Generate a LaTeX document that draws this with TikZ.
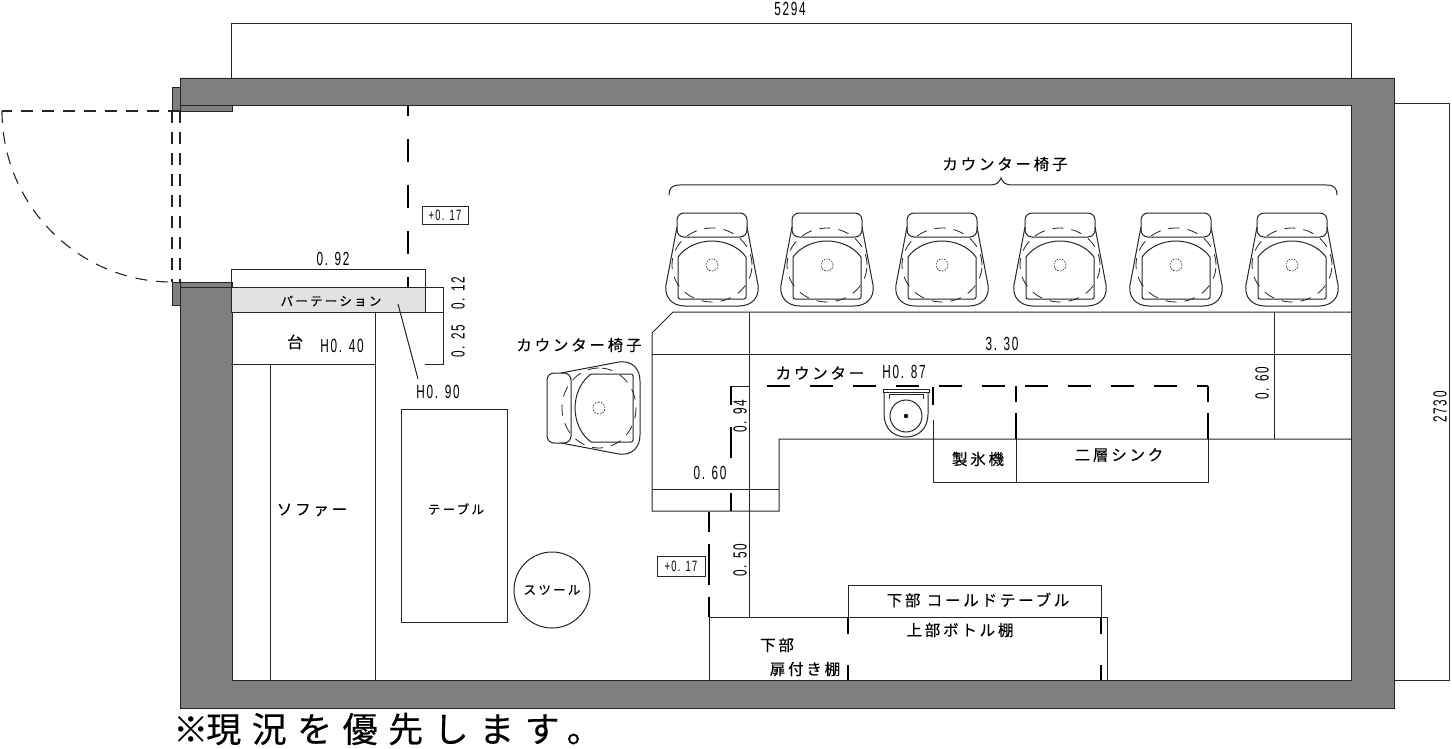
\documentclass[tikz,border=0pt]{standalone}
\usepackage{fontspec}
\usetikzlibrary{positioning}
\newfontfamily\jpfont[LetterSpace=18,FakeBold=0.25]{Noto Sans CJK JP}
\newfontfamily\notefont[LetterSpace=30,FakeBold=0.4]{Noto Sans CJK JP}
\newfontfamily\jptight[FakeBold=0.4]{Noto Sans CJK JP}
\newfontfamily\dimfont[FakeStretch=0.62,LetterSpace=9]{Liberation Sans}
\definecolor{WallGrey}{HTML}{808080}
\definecolor{PartGrey}{HTML}{E2E2E2}
\definecolor{InkDark}{HTML}{252525}
\tikzset{
  wall/.style={fill=WallGrey, draw=InkDark, line width=0.9pt},
  plan/.style={draw=InkDark, line width=1pt},
  dimline/.style={draw=InkDark, line width=0.8pt},
  hidden/.style={draw=black, line width=1.5pt},
  doorline/.style={draw=InkDark, line width=1.1pt, dash pattern=on 12pt off 9pt},
  jplabel/.style={inner sep=0pt, text=black, font=\fontsize{15.5}{17}\selectfont\jpfont},
  jpsmall/.style={inner sep=0pt, text=black, font=\fontsize{12.5}{14}\selectfont\jpfont},
  dimlabel/.style={inner sep=0pt, text=black, font=\fontsize{19}{21}\selectfont\dimfont},
  levelbox/.style={draw=InkDark, line width=0.8pt, inner sep=0pt, minimum height=18pt,
      text=black, font=\fontsize{15}{17}\selectfont\dimfont},
  chair/.pic={
    \draw[plan, rounded corners=7pt] (-35,-52) rectangle (35,-28);
    \draw[plan] (-35,-38) -- (-46,20) .. controls (-48,33) and (-39,41) .. (-27,41)
        -- (27,41) .. controls (39,41) and (48,33) .. (46,20) -- (35,-38);
    \draw[plan, rounded corners=2pt] (-34,-8) -- (-34,34) -- (34,34) -- (34,-8);
    \draw[plan] (-34,-8) .. controls (-26,-19) and (-12,-24) .. (0,-24)
        .. controls (12,-24) and (26,-19) .. (34,-8);
    \draw[dimline, dash pattern=on 11pt off 8pt] (0,0) ellipse [x radius=40pt, y radius=37pt];
    \draw[dimline, line width=0.6pt, dash pattern=on 1.6pt off 1.2pt] (0,0) circle [radius=6pt];
  }
}
\begin{document}
\begin{tikzpicture}[x=1pt, y=-1pt]
\useasboundingbox (0,0) rectangle (1452,749);

% walls and door
\draw[wall] (180,78) -- (1394,78) -- (1394,708) -- (180,708) -- (180,282) -- (232,282)
    -- (232,680) -- (1351,680) -- (1351,105) -- (232,105) -- (232,111) -- (180,111) -- cycle;
\draw[dimline] (180,105) -- (232,105) (180,287) -- (232,287);
\draw[wall] (172,87) rectangle (180,111);
\draw[wall] (172,282) rectangle (180,305);
\draw[doorline] (180,111) -- (2,111);
\draw[doorline] (2,111) .. controls (2,205) and (78,282) .. (172,282);
\draw[doorline] (172,111) -- (172,282);
\draw[doorline] (180,111) -- (180,282);

% overall sizes
\draw[dimline] (231,78) -- (231,23) -- (1351,23) -- (1351,78);
\draw[dimline] (1394,103) -- (1449,103) -- (1449,680) -- (1394,680);
\node[dimlabel] (widthlabel) at (790,9) {5294};
\node[dimlabel, rotate=90] (depthlabel) at (1440,407) {2730};

% partition and low shelf
\draw[dimline, fill=PartGrey] (231,287) rectangle (425,312);
\draw[dimline] (231,287) -- (231,269) -- (425,269) -- (425,312);
\draw[dimline] (425,287) -- (443,287) -- (443,364) -- (425,364);
\draw[dimline] (425,312) -- (443,312);
\draw[plan] (398,304) -- (418,379);
\draw[plan] (375,312) -- (375,680);
\draw[plan] (231,364) -- (375,364);
\draw[plan] (270,364) -- (270,680);
\draw[hidden, dash pattern=on 23pt off 23pt, dash phase=12.3pt] (408,105) -- (408,287);
\node[jpsmall] (partlabel) at (331,301) {パーテーション};
\node[dimlabel] (partwidth) at (333,259) {0. 92};
\node[dimlabel, rotate=90] (partthick) at (458,293) {0. 12};
\node[dimlabel, rotate=90] (partgap) at (458,341) {0. 25};
\node[dimlabel] (partheight) at (438,392) {H0. 90};
\node[inner sep=0pt, text=black, font=\fontsize{16}{18}\selectfont\jptight] (shelflabel) at (295,342) {台};
\node[dimlabel] (shelfheight) at (342,346) {H0. 40};
\node[levelbox, minimum width=46pt] (levelupper) at (445,215) {+0. 17};

% sofa, table, stool
\node[jplabel] (sofalabel) at (312,510) {ソファー};
\node[plan, rectangle, minimum width=106pt, minimum height=213pt, draw=InkDark] (tablebox) at (454,515.5) {};
\node[jpsmall] (tablelabel) at (456,509) {テーブル};
\node[plan, circle, minimum size=76pt, jpsmall, draw=InkDark] (stoolbox) at (552,590) {スツール};

% chairs
\draw[plan] (669,195) .. controls (669,188) and (672,185) .. (680,185) -- (990,185)
    .. controls (996,185) and (999,183) .. (1001,178) .. controls (1003,183) and (1006,185) .. (1012,185)
    -- (1326,185) .. controls (1334,185) and (1337,188) .. (1337,195);
\node[jplabel] (chairtop) at (1005,164) {カウンター椅子};
\foreach \cx in {712,827,942,1060,1176,1292}
  \pic at (\cx,265) {chair};
\pic[rotate=90] at (599,408) {chair};
\node[jplabel] (chairside) at (579,345) {カウンター椅子};

% counter
\draw[plan] (1351,312) -- (673,312) -- (652,333) -- (652,511) -- (779,511) -- (779,439) -- (1351,439);
\draw[plan] (652,354) -- (1351,354);
\draw[plan] (652,489) -- (779,489);
\draw[plan] (749,312) -- (749,617);
\draw[plan] (1274,312) -- (1274,439);
\draw[plan] (731,386) -- (749,386);
\draw[hidden] (731,386) -- (731,405) (731,427) -- (731,458) (731,493) -- (731,511);
\draw[hidden, line width=1.2pt, dash pattern=on 23pt off 20pt] (767,386) -- (1208,386);
\node[jplabel] (counterlabel) at (820,373) {カウンター};
\node[dimlabel] (counterheight) at (904,372) {H0. 87};
\node[dimlabel] (counterlong) at (1002,344) {3. 30};
\node[dimlabel, rotate=90] (counterdepth) at (1262,383) {0. 60};
\node[dimlabel] (counterend) at (710,473) {0. 60};
\node[dimlabel, rotate=90] (counterside) at (740,416) {0. 94};

% sink
\draw[plan] (883,389) rectangle (929,392);
\draw[plan] (884,392) -- (884,414) .. controls (884,429) and (894,437) .. (906,437)
    .. controls (918,437) and (928,429) .. (928,414) -- (928,392);
\draw[plan] (889,399) -- (889,394) -- (923,394) -- (923,399);
\draw[plan] (906,416) circle [radius=16pt];
\fill[black] (906,416) circle [radius=2.2pt];

% ice maker and double sink
\draw[hidden] (933,387) -- (933,405);
\draw[plan] (933,420) -- (933,482) -- (1208,482) -- (1208,439);
\draw[plan] (1016,439) -- (1016,482);
\draw[hidden] (1016,386) -- (1016,402) (1016,413) -- (1016,439);
\draw[hidden] (1208,386) -- (1208,402) (1208,413) -- (1208,439);
\node[jplabel] (icelabel) at (978,459) {製氷機};
\node[jplabel] (sinklabel) at (1119,455) {二層シンク};

% back shelves
\draw[plan] (709,617) -- (709,680);
\draw[plan] (709,617) -- (1107,617) -- (1107,680);
\draw[plan] (848,617) -- (848,585) -- (1101,585) -- (1101,617);
\draw[hidden] (848,617) -- (848,634) (848,665) -- (848,680);
\draw[hidden] (1101,617) -- (1101,634) (1101,665) -- (1101,680);
\draw[hidden] (709,512) -- (709,532) (709,544) -- (709,585) (709,597) -- (709,617);
\node[levelbox, minimum width=48pt, minimum height=20pt] (levellower) at (681,566) {+0. 17};
\node[dimlabel, rotate=90] (passgap) at (740,560) {0. 50};
\node[jplabel] (coldlabel) at (978,600) {下部 コールドテーブル};
\node[jplabel] (bottlelabel) at (960,630) {上部ボトル棚};
\node[jplabel] (lowerlabel) at (777,645) {下部};
\node[jplabel] (doorshelf) at (805,669) {扉付き棚};

% footnote
\node[inner sep=0pt, anchor=west, text=black, font=\fontsize{35}{38}\selectfont\notefont] (notelabel) at (173,729) {※\kern-2pt 現況を優先します。};
\end{tikzpicture}
\end{document}
